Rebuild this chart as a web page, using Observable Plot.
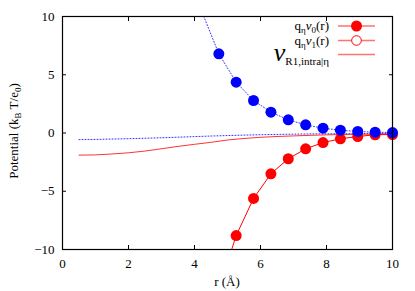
<!DOCTYPE html>
<html>
<head>
<meta charset="utf-8">
<script src="https://cdn.jsdelivr.net/npm/d3@7"></script>
<script src="https://cdn.jsdelivr.net/npm/@observablehq/plot@0.6"></script>
<style>
  html, body { margin: 0; padding: 0; background: #fff; }
  #chart svg { display: block; }
  #chart svg, #chart svg text { font-family: "Liberation Serif", "Times New Roman", Tinos, Times, serif !important; }
</style>
</head>
<body>
<div id="chart"></div>
<script>
// r positions of the sampled points (Å)
const rBlue = [4.211, 4.737, 5.263, 5.789, 6.316, 6.842, 7.368, 7.895, 8.421, 8.947, 9.474, 10.0];
const blueV1 = [10.5, 6.80, 4.36, 2.79, 1.79, 1.13, 0.70, 0.41, 0.24, 0.13, 0.07, 0.04];
const rRed = [4.737, 5.263, 5.789, 6.316, 6.842, 7.368, 7.895, 8.421, 8.947, 9.474, 10.0];
const redV0 = [-13.45, -8.80, -5.62, -3.50, -2.21, -1.36, -0.82, -0.50, -0.30, -0.15, -0.13];

// smooth curves
const rCurve = [0.5, 1, 1.5, 2, 2.5, 3, 3.5, 4, 4.5, 5, 5.5, 6, 6.5, 7, 7.5, 8, 8.5, 9, 9.5, 10];
const blueCurve = [-0.57, -0.55, -0.52, -0.49, -0.45, -0.41, -0.36, -0.31, -0.26, -0.22, -0.18, -0.15, -0.12, -0.10, -0.08, -0.07, -0.06, -0.05, -0.04, -0.03];
const redCurve = [-1.90, -1.88, -1.80, -1.70, -1.55, -1.35, -1.15, -0.97, -0.80, -0.60, -0.47, -0.37, -0.30, -0.25, -0.20, -0.16, -0.13, -0.11, -0.10, -0.09];

const xTicks = [0, 2, 4, 6, 8, 10];
const yTicks = [-10, -5, 0, 5, 10];

const blueData = rBlue.map((r, i) => ({r, v: blueV1[i]}));
const redData = rRed.map((r, i) => ({r, v: redV0[i]}));
const blueCurveData = rCurve.map((r, i) => ({r, v: blueCurve[i]}));
const redCurveData = rCurve.map((r, i) => ({r, v: redCurve[i]}));
const inRange = d => d.v >= -10 && d.v <= 10;

const FONT = '"Liberation Serif", "Times New Roman", Tinos, Times, serif';

const chart = Plot.plot({
  width: 415,
  height: 291,
  marginLeft: 62,
  marginRight: 23,
  marginTop: 16,
  marginBottom: 42,
  style: {fontFamily: FONT, fontSize: "13px", color: "#000", background: "#fff"},
  x: {domain: [0, 10]},
  y: {domain: [-10, 10]},
  marks: [
    // curves
    Plot.line(blueCurveData, {x: "r", y: "v", stroke: "#0000ff", strokeWidth: 1, strokeOpacity: 0.8, strokeDasharray: "1,2", clip: true}),
    Plot.line(redCurveData, {x: "r", y: "v", stroke: "#ff0000", strokeWidth: 1, strokeOpacity: 0.8, clip: true}),
    // red series
    Plot.line(redData, {x: "r", y: "v", stroke: "#ff0000", strokeWidth: 1, clip: true}),
    Plot.dot(redData, {x: "r", y: "v", r: 5.5, fill: "#ff0000", stroke: "none", filter: inRange}),
    // blue series
    Plot.line(blueData, {x: "r", y: "v", stroke: "#0000ff", strokeWidth: 1, strokeOpacity: 0.8, strokeDasharray: "1,2", clip: true}),
    Plot.dot(blueData, {x: "r", y: "v", r: 5.5, fill: "#0000ff", stroke: "none", filter: inRange}),
    // axes: labels
    Plot.axisX(xTicks, {anchor: "bottom", tickSize: 0, tickPadding: 9, label: null, tickFormat: d => String(d)}),
    Plot.axisY(yTicks, {anchor: "left", tickSize: 0, tickPadding: 8, label: null}),
    // inward ticks (mirrored)
    Plot.axisX(xTicks, {anchor: "bottom", tickSize: -4, tickFormat: () => "", label: null, stroke: "#000"}),
    Plot.axisX(xTicks, {anchor: "top", tickSize: -4, tickFormat: () => "", label: null, stroke: "#000"}),
    Plot.axisY(yTicks, {anchor: "left", tickSize: -4, tickFormat: () => "", label: null, stroke: "#000"}),
    Plot.axisY(yTicks, {anchor: "right", tickSize: -4, tickFormat: () => "", label: null, stroke: "#000"}),
    Plot.frame({stroke: "#000", strokeWidth: 1.2})
  ]
});

document.getElementById("chart").appendChild(chart);

// annotations: axis titles and legend
const svg = d3.select(chart);

// x-axis title
svg.append("text")
  .attr("x", 227).attr("y", 286)
  .attr("text-anchor", "middle")
  .style("font-family", FONT).attr("font-size", 13).attr("fill", "#000")
  .text("r (Å)");

// y-axis title
const yt = svg.append("text")
  .attr("transform", "translate(18,131) rotate(-90)")
  .attr("text-anchor", "middle")
  .style("font-family", FONT).attr("font-size", 13).attr("fill", "#000");
yt.append("tspan").text("Potential (k");
yt.append("tspan").attr("font-size", 9).attr("dy", 3).text("B");
yt.append("tspan").attr("dy", -3).text(" T/e");
yt.append("tspan").attr("font-size", 9).attr("dy", 3).text("0");
yt.append("tspan").attr("dy", -3).text(")");

// legend
const lg = svg.append("g").style("font-family", FONT).attr("fill", "#000");
const lx1 = 338, lx2 = 375, lmx = 356.5;
const rows = [26, 40.5, 54.5];

function qLabel(y, idx) {
  const t = lg.append("text").attr("x", 329).attr("y", y + 4).attr("text-anchor", "end").attr("font-size", 13);
  t.append("tspan").text("q");
  t.append("tspan").attr("font-size", 9).attr("dy", 3).text("η");
  t.append("tspan").attr("dy", -3).attr("font-style", "italic").text("ν");
  t.append("tspan").attr("font-size", 9).attr("dy", 3).text(idx);
  t.append("tspan").attr("dy", -3).text("(r)");
}
qLabel(rows[0], "0");
qLabel(rows[1], "1");

const t3 = lg.append("text").attr("x", 329).attr("y", rows[2] + 6).attr("text-anchor", "end");
t3.append("tspan").attr("font-size", 26).attr("font-style", "italic").text("v");
t3.append("tspan").attr("font-size", 11).attr("dy", 4).text("R1,intra|η");

rows.forEach(y => {
  lg.append("line").attr("x1", lx1).attr("x2", lx2).attr("y1", y).attr("y2", y)
    .attr("stroke", "#ff0000").attr("stroke-opacity", 0.55).attr("stroke-width", 1.3);
});
lg.append("circle").attr("cx", lmx).attr("cy", rows[0]).attr("r", 5.5).attr("fill", "#ff0000");
lg.append("circle").attr("cx", lmx).attr("cy", rows[1]).attr("r", 4.8).attr("fill", "#fff").attr("stroke", "#ff0000").attr("stroke-width", 1);
</script>
</body>
</html>
